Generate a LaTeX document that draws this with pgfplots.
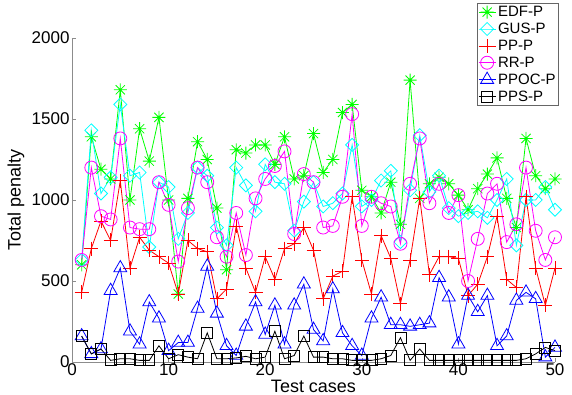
\documentclass[border=0pt]{standalone}
\usepackage{fontspec}
\setmainfont{Liberation Sans}
\usepackage{pgfplots}
\pgfplotsset{compat=1.18}
\usepackage{pgfplotstable}

\pgfdeclareplotmark{mstar}{%
  \pgfpathmoveto{\pgfqpoint{-\pgfplotmarksize}{0pt}}\pgfpathlineto{\pgfqpoint{\pgfplotmarksize}{0pt}}%
  \pgfpathmoveto{\pgfqpoint{0pt}{-\pgfplotmarksize}}\pgfpathlineto{\pgfqpoint{0pt}{\pgfplotmarksize}}%
  \pgfpathmoveto{\pgfqpoint{-0.707\pgfplotmarksize}{-0.707\pgfplotmarksize}}\pgfpathlineto{\pgfqpoint{0.707\pgfplotmarksize}{0.707\pgfplotmarksize}}%
  \pgfpathmoveto{\pgfqpoint{-0.707\pgfplotmarksize}{0.707\pgfplotmarksize}}\pgfpathlineto{\pgfqpoint{0.707\pgfplotmarksize}{-0.707\pgfplotmarksize}}%
  \pgfusepathqstroke}
\pgfdeclareplotmark{mdiamond}{%
  \pgfpathmoveto{\pgfqpoint{0pt}{\pgfplotmarksize}}%
  \pgfpathlineto{\pgfqpoint{\pgfplotmarksize}{0pt}}%
  \pgfpathlineto{\pgfqpoint{0pt}{-\pgfplotmarksize}}%
  \pgfpathlineto{\pgfqpoint{-\pgfplotmarksize}{0pt}}%
  \pgfpathclose\pgfusepathqstroke}

\pgfplotstableread{
x edf gus pp rr ppoc pps
1 600 630 430 630 160 160
2 1390 1430 700 1200 50 50
3 1190 1040 870 900 80 80
4 1130 1140 750 880 440 10
5 1680 1590 1120 1380 580 20
6 1000 1150 580 830 190 20
7 1440 1170 770 820 110 10
8 1240 710 690 820 370 10
9 1510 1110 650 1110 270 100
10 1000 1080 610 970 70 20
11 420 760 420 620 120 45
12 1010 920 750 950 120 30
13 1360 1200 700 1200 330 20
14 1250 1150 680 1110 590 180
15 950 830 390 770 300 20
16 570 720 450 650 100 20
17 1310 1200 840 920 40 25
18 1290 1090 580 660 220 35
19 1340 930 430 1010 370 20
20 1340 1220 650 1130 170 30
21 1220 1110 510 1210 350 190
22 1390 1100 700 1300 110 20
23 1130 810 730 790 350 40
24 1150 990 830 1160 480 160
25 1410 1110 690 1110 200 30
26 1170 960 390 830 130 30
27 1250 980 530 840 450 20
28 1540 1040 560 1020 180 20
29 1590 1340 1020 1530 100 10
30 1060 960 630 840 40 10
31 1020 1000 420 1020 270 10
32 920 1120 780 980 400 20
33 1110 1180 640 960 230 40
34 850 740 360 730 230 150
35 1740 1060 630 1100 220 10
36 1010 1400 1010 1380 230 80
37 1100 1050 540 980 240 10
38 1140 1150 650 1100 520 10
39 1100 950 650 920 400 10
40 1030 900 640 1030 110 10
41 940 920 410 500 410 10
42 1070 930 480 760 310 10
43 1160 890 650 1040 410 10
44 1260 1000 900 1100 100 10
45 1010 1130 510 740 160 10
46 830 720 460 850 380 10
47 1380 1000 1020 1200 430 20
48 1150 1000 580 810 390 50
49 1070 1080 350 630 30 90
50 1130 940 580 770 90 70
}\data

\definecolor{mgreen}{rgb}{0,1,0}
\definecolor{mcyan}{rgb}{0,1,1}
\definecolor{mred}{rgb}{1,0,0}
\definecolor{mmag}{rgb}{1,0,1}
\definecolor{mblue}{rgb}{0,0,1}

\begin{document}
\begin{tikzpicture}
\useasboundingbox (-72pt,-33pt) rectangle (500pt,362pt);
\begin{axis}[
  at={(0,0)}, anchor=south west,
  scale only axis, width=483pt, height=324pt,
  xmin=0, xmax=50, ymin=0, ymax=2000,
  xtick={0,10,...,50}, ytick={0,500,...,2000},
  axis lines*=left, axis line style={draw=black!45,-},
  tick align=inside, major tick length=4pt, tick style={black!45},
  ticklabel style={font=\fontsize{17}{18}\selectfont},
  xticklabel style={yshift=2pt},
  yticklabel style={xshift=1pt},
  /pgf/number format/assume math mode=true,
  /pgf/number format/set thousands separator={},
  xlabel={Test cases}, ylabel={Total penalty},
  label style={font=\fontsize{18}{20}\selectfont},
  xlabel style={at={(axis description cs:0.5,-0.074)}, anchor=center},
  ylabel style={at={(axis description cs:-0.116,0.5)}, anchor=center},
  legend style={at={(0.8385,1.108)}, anchor=north west, draw=black!60,
    font=\fontsize{15}{17}\selectfont, inner sep=1pt, row sep=1pt,
    legend cell align=left},
  every axis plot/.append style={line width=0.8pt},
]
\addplot[mgreen, mark=mstar, mark size=6.5pt] table[x=x,y=edf]{\data};
\addlegendentry{EDF-P}
\addplot[mcyan, mark=mdiamond, mark size=6.5pt] table[x=x,y=gus]{\data};
\addlegendentry{GUS-P}
\addplot[mred, mark=+, mark size=7pt] table[x=x,y=pp]{\data};
\addlegendentry{PP-P}
\addplot[mmag, mark=o, mark size=6.5pt] table[x=x,y=rr]{\data};
\addlegendentry{RR-P}
\addplot[mblue, mark=triangle, mark size=7.5pt] table[x=x,y=ppoc]{\data};
\addlegendentry{PPOC-P}
\addplot[black, mark=square, mark size=5.5pt] table[x=x,y=pps]{\data};
\addlegendentry{PPS-P}
\end{axis}
\end{tikzpicture}
\end{document}
